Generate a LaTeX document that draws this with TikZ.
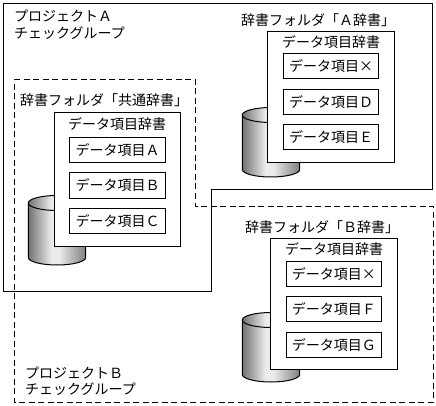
\documentclass[tikz,border=0pt]{standalone}
\usepackage{fontspec}
\setmainfont{Noto Sans CJK JP}
\pgfdeclarehorizontalshading{cylh}{100bp}{color(0bp)=(black!55);color(25bp)=(black!55);color(45bp)=(black!8);color(52bp)=(black!8);color(75bp)=(black!50);color(100bp)=(black!50)}
\tikzset{
  x=1pt,y=-1pt,
  every node/.style={font=\fontsize{14pt}{15pt}\selectfont,inner sep=0pt},
  edge line/.style={draw=black,line width=1pt},
  dash line/.style={draw=black,line width=1pt,dash pattern=on 6pt off 3.5pt},
  lbl/.style={anchor=west},
  itembox/.style={edge line,fill=white,minimum width=#1,minimum height=25pt},
  dictbox/.style={edge line,fill=white},
  cyl/.pic={
    \draw[edge line,shading=cylh] (-28.7,0) -- (-28.7,54.5) arc[start angle=180,end angle=0,x radius=28.7,y radius=7.5] -- (28.7,0) -- cycle;
    \draw[edge line,shading=cylh] (0,0) ellipse[x radius=28.7,y radius=7.5];
  }
}
\begin{document}
\begin{tikzpicture}
\useasboundingbox (0,0) rectangle (436,406);
\fill[white] (0,0) rectangle (436,406);
% dashed outline
\draw[dash line] (14,79.5) -- (195,79.5) -- (195,206) -- (433,206) -- (433,402) -- (14,402) -- cycle;
% solid outline
\draw[edge line] (3.5,3.5) -- (432.5,3.5) -- (432.5,190) -- (211,190) -- (211,291) -- (3.5,291) -- cycle;
% texts
\node[lbl] (pa1) at (14,16) {プロジェクトＡ};
\node[lbl] (pa2) at (14,33) {チェックグループ};
\node[lbl] (pb1) at (25,373) {プロジェクトＢ};
\node[lbl] (pb2) at (25,389) {チェックグループ};
\node[lbl] (fc) at (20,100) {辞書フォルダ「共通辞書」};
\node[lbl] (fa) at (241,20) {辞書フォルダ「Ａ辞書」};
\node[lbl] (fb) at (245,227) {辞書フォルダ「Ｂ辞書」};
% common
\pic at (57,203) {cyl};
\node[dictbox,minimum width=126.5pt,minimum height=133.5pt] (dc) at (117.3,179.3) {};
\node (dct) at (117,124.5) {データ項目辞書};
\node[itembox=96pt] (ia) at (117.5,149.7) {データ項目Ａ};
\node[itembox=96pt] (ib) at (117.5,185.5) {データ項目Ｂ};
\node[itembox=96pt] (ic) at (117.5,221) {データ項目Ｃ};
% A
\pic at (271,115) {cyl};
\node[dictbox,minimum width=127.4pt,minimum height=131pt] (da) at (331,97.2) {};
\node (dat) at (331,42.5) {データ項目辞書};
\node[itembox=95.4pt] (ix) at (331,66.3) {データ項目×};
\node[itembox=95.4pt] (id) at (331,102.2) {データ項目Ｄ};
\node[itembox=95.4pt] (ie) at (331,137.5) {データ項目Ｅ};
% B
\pic at (271,320) {cyl};
\node[dictbox,minimum width=127pt,minimum height=130.7pt] (db) at (333.8,303.7) {};
\node (dbt) at (334,249.5) {データ項目辞書};
\node[itembox=95pt] (iy) at (333.8,273.8) {データ項目×};
\node[itembox=95pt] (if) at (333.8,308.8) {データ項目Ｆ};
\node[itembox=95pt] (ig) at (333.8,344.7) {データ項目Ｇ};
\end{tikzpicture}
\end{document}
